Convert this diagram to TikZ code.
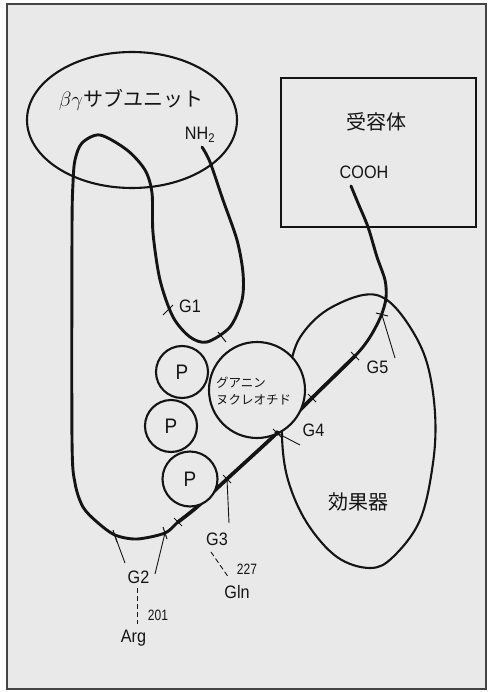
\documentclass[tikz,border=0pt]{standalone}
\usepackage{fontspec}
\setmainfont{Liberation Sans}
\newfontfamily\labfont[FakeStretch=0.9]{Liberation Sans}
\newfontfamily\numfont[FakeStretch=0.8]{Liberation Sans}
\newfontfamily\jpfont{Noto Sans CJK JP}
\definecolor{bgc}{RGB}{233,233,233}
\definecolor{ink}{RGB}{20,20,20}
\tikzset{
  chain/.style={line width=2.9pt, draw=ink, line cap=round, line join=round},
  outline/.style={line width=2.1pt, draw=ink},
  tickmark/.style={line width=1pt, draw=ink},
  pointer/.style={line width=0.9pt, draw=ink},
  lbl/.style={font=\labfont\fontsize{18}{18}\selectfont, inner sep=0pt, text=ink, anchor=base},
  num/.style={font=\numfont\fontsize{15}{15}\selectfont, inner sep=0pt, text=ink, anchor=base},
  jp/.style={font=\jpfont\fontsize{20}{20}\selectfont, inner sep=0pt, text=ink},
  jps/.style={font=\jpfont\fontsize{12.5}{17}\selectfont, inner sep=0pt, text=ink, align=left},
  pc/.style={circle, outline, fill=bgc, minimum size=#1, inner sep=0pt, text=ink, font=\labfont\fontsize{21}{21}\selectfont},
}
\begin{document}
\begin{tikzpicture}[x=1pt,y=-1pt]
\useasboundingbox (0,0) rectangle (488,692);
% frame
\draw[line width=1.5pt, draw=ink!80, fill=bgc] (7,4) rectangle (486,689);

% beta-gamma subunit
\draw[outline] (132,120) ellipse [x radius=105, y radius=68];
\node[jp] (bgtext) at (131,100) {$\beta\gamma$サブユニット};
\node[lbl] (nh2) at (200,140) {NH\textsubscript{2}};

% receptor
\node[draw=ink, line width=2.1pt, minimum width=195pt, minimum height=149pt, inner sep=0pt] (rec) at (378.5,152.5) {};
\node[jp] (rectext) at (376,122) {受容体};
\node[lbl] (cooh) at (364,179) {COOH};

% effector
\draw[outline] plot[smooth cycle, tension=0.6] coordinates {(363,295) (387,300) (410,327) (427,363) (435,413) (433,463) (420,520) (393,557) (370,568) (337,557) (307,523) (288,480) (282,437) (285,400) (292,358) (303,333) (327,310)};
\node[jp] (eff) at (358,502) {効果器};

% alpha chain
\draw[chain] plot[smooth, tension=0.5] coordinates {(202,147) (210,162) (223,200) (237,240) (243,273) (242,300) (230,327) (207,342) (190,337) (173,317) (160,280) (153,233) (152,193) (145,170) (127,150) (100,135) (82,143) (75,160) (73,183) (72,230) (72,440) (75,483) (83,507) (97,522) (115,535) (137,539) (165,533) (178,522) (197,507) (227,479) (277,433) (312,398) (355,356) (370,337) (381,316) (386,298) (385,280) (377,257) (368,227) (358,203) (351,186)};
\draw[chain, line width=3.6pt] plot[smooth, tension=0.5] coordinates {(178,522) (197,507) (227,479) (277,433) (312,398) (355,356)};

% nucleotide and phosphates
\node[pc=96pt] (gn) at (257,390) {};
\node[jps, anchor=west] (gntext) at (216,391) {グアニン\\ヌクレオチド};
\node[pc=52pt] (p1) at (182,372) {P};
\node[pc=52pt] (p2) at (171,426) {P};
\node[pc=55pt] (p3) at (190,479) {P};

% tick marks
\coordinate (t1a) at (168,310);
\coordinate (t1b) at (222,337);
\coordinate (t2a) at (115,536);
\coordinate (t2b) at (165,533);
\coordinate (t2c) at (178,522);
\coordinate (t3) at (227,479);
\coordinate (t4) at (277,433);
\coordinate (t4b) at (312,398);
\coordinate (t5a) at (355,356);
\coordinate (t5) at (382,315);
\draw[tickmark] (163,315) -- (173,305);
\draw[tickmark] (218,332) -- (226,342);
\draw[tickmark] (113,530) -- (117,542);
\draw[tickmark] (163,527) -- (167,539);
\draw[tickmark] (174,518) -- (182,526);
\draw[tickmark] (223,475) -- (231,483);
\draw[tickmark] (273,429) -- (281,437);
\fill[ink] (t4) circle (2.6pt);
\draw[tickmark] (308,394) -- (316,402);
\draw[tickmark] (351,352) -- (359,360);
\draw[tickmark] (376,313) -- (388,316);

% labels
\node[lbl] (g1) at (190,312) {G1};
\node[lbl] (g2) at (138.5,583) {G2};
\node[lbl] (g3) at (217,545) {G3};
\node[lbl] (g4) at (313.5,436) {G4};
\node[lbl] (g5) at (377.5,373) {G5};
\node[lbl] (arg) at (133.5,642) {Arg};
\node[lbl] (gln) at (237,598) {Gln};
\node[num] (n201) at (158,620) {201};
\node[num] (n227) at (247,574) {227};

% pointers
\draw[pointer] (t2a) -- (125,563);
\draw[pointer] (t2b) -- (155,574);
\draw[pointer] (t3) -- (229,523);
\draw[pointer] (t4) -- (300,445);
\draw[pointer] (t5) -- (395,358);

% dashed
\coordinate (d2a) at (137,588);
\coordinate (d2b) at (137,624);
\coordinate (d3a) at (211,552);
\coordinate (d3b) at (229,578);
\draw[pointer, dash pattern=on 5pt off 3pt] (d2a) -- (d2b);
\draw[pointer, dash pattern=on 5pt off 3pt] (d3a) -- (d3b);
\end{tikzpicture}
\end{document}
